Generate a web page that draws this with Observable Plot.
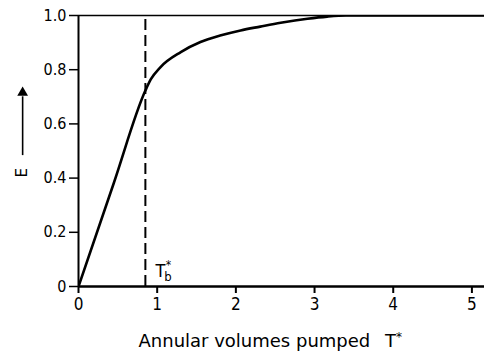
<!DOCTYPE html>
<html>
<head>
<meta charset="utf-8">
<script src="https://cdn.jsdelivr.net/npm/d3@7"></script>
<script src="https://cdn.jsdelivr.net/npm/@observablehq/plot@0.6"></script>
<style>
  html, body { margin: 0; padding: 0; background: #fff; }
  #chart svg { display: block; }
</style>
</head>
<body>
<div id="chart"></div>
<script>
// Data
const curveT = [0, 0.45, 0.85, 0.92, 1.04, 1.30, 1.55, 1.80, 2.06, 2.31, 2.57, 2.91, 3.16, 3.4, 4, 5.2];
const curveE = [0, 0.383, 0.723, 0.765, 0.809, 0.865, 0.902, 0.926, 0.945, 0.959, 0.973, 0.988, 0.996, 1.0, 1.0, 1.0];
const Tb = 0.85;
const xTicks = [0, 1, 2, 3, 4, 5];
const yTicks = [0, 0.2, 0.4, 0.6, 0.8, 1.0];
const yTickLabels = ["0", "0.2", "0.4", "0.6", "0.8", "1.0"];
const xLabel = "Annular volumes pumped\u2002 T*";
const yLabel = "E";
const tbLabel = "T";

const curve = curveT.map((t, i) => ({t, e: curveE[i]}));
const tickFont = "'DejaVu Sans Condensed', 'Liberation Sans Narrow', 'DejaVu Sans', sans-serif";

const plot = Plot.plot({
  width: 484,
  height: 353,
  marginLeft: 78,
  marginRight: 0,
  marginTop: 15,
  marginBottom: 67,
  style: {fontFamily: tickFont, fontSize: "16px", color: "#000", background: "#fff"},
  x: {domain: [0, 5.16]},
  y: {domain: [0, 1]},
  marks: [
    Plot.axisX({ticks: xTicks, tickSize: 7, tickPadding: 4, strokeWidth: 2, fontSize: 17, label: null, tickFormat: d => String(d)}),
    Plot.axisY({ticks: yTicks, tickSize: 9, tickPadding: 3, strokeWidth: 1.5, fontSize: 16, label: null,
      tickFormat: d => yTickLabels[yTicks.indexOf(d)]}),
    Plot.ruleY([1], {stroke: "#000", strokeWidth: 1.6}),
    Plot.ruleY([0], {stroke: "#000", strokeWidth: 2.6}),
    Plot.ruleX([0], {stroke: "#000", strokeWidth: 2}),
    Plot.ruleX([Tb], {y1: 0, y2: 1, stroke: "#000", strokeWidth: 2, strokeDasharray: "11,5"}),
    Plot.line(curve, {x: "t", y: "e", curve: "monotone-x", stroke: "#000", strokeWidth: 2.6, clip: true}),
    // T_b* label
    Plot.text([Tb], {x: d => d, y: 0, text: () => tbLabel, textAnchor: "start", dx: 10, dy: -15, fontSize: 18, fill: "#000", className: "tb-label"}),
    // x axis title
    Plot.text([xLabel], {frameAnchor: "bottom-left", text: d => d, textAnchor: "start", dx: 60, dy: 60, fontSize: 18, fontFamily: "'DejaVu Sans', sans-serif", fill: "#000", className: "x-title"}),
    // y axis title with arrow
    Plot.text([yLabel], {x: -0.72, y: 0.42, text: d => d, rotate: -90, fontSize: 15, fontFamily: "'DejaVu Sans', sans-serif", fill: "#000"}),
    Plot.ruleX([-0.71], {y1: 0.483, y2: 0.70, stroke: "#000", strokeWidth: 1.6, clip: false}),
    Plot.dot([-0.71], {x: d => d, y: 0.715, symbol: "triangle", r: 4, fill: "#000", stroke: null, clip: false})
  ]
});

// Subscript / superscript parts of the labels
const svg = d3.select(plot);
svg.selectAll(".tb-label text").each(function() {
  const t = d3.select(this);
  t.text(null);
  t.append("tspan").attr("fill", "#000").text("T");
  t.append("tspan").attr("fill", "#000").attr("font-size", 13).attr("dy", "0.28em").attr("dx", "-1").text("b");
  t.append("tspan").attr("fill", "#000").attr("font-size", 12).attr("dy", "-1.0em").attr("dx", "-6").text("*");
});
svg.selectAll(".x-title text").each(function() {
  const t = d3.select(this);
  const s = t.text();
  t.text(null);
  t.append("tspan").attr("fill", "#000").text(s.slice(0, -1));
  t.append("tspan").attr("fill", "#000").attr("font-size", 12).attr("dy", "-0.45em").text("*");
});

document.getElementById("chart").appendChild(plot);
</script>
</body>
</html>
